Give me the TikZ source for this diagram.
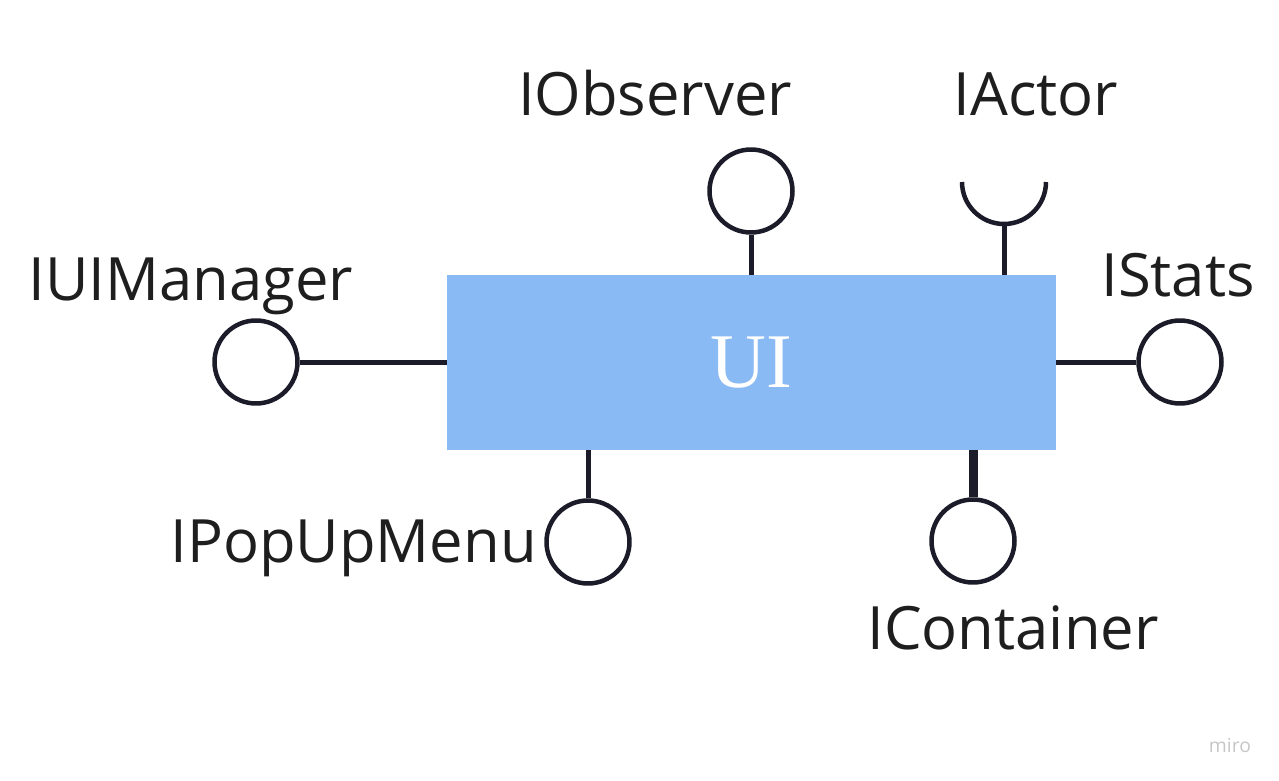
\documentclass[tikz,border=0pt]{standalone}
\usepackage{fontspec}
\setmainfont{Open Sans}
\newfontfamily\uiserif{Liberation Serif}
\definecolor{boxblue}{HTML}{8ABAF3}
\definecolor{ink}{HTML}{1B1B29}
\definecolor{txt}{HTML}{1E1E1E}
\tikzset{
  iface/.style={circle, draw=ink, line width=0.09cm, minimum size=1.66cm, inner sep=0pt},
  wire/.style={draw=ink, line width=0.1cm},
  lbl/.style={text=txt, inner sep=0pt, font=\fontsize{34}{40}\selectfont},
}
\begin{document}
\begin{tikzpicture}[x=0.02cm, y=-0.02cm]
            \useasboundingbox (0,0) rectangle (1279,781);
            \node[fill=boxblue, minimum width=12.18cm, minimum height=3.5cm, inner sep=0pt,
                  text=white, font=\uiserif\fontsize{44}{50}\selectfont] (ui) at (751.5,362.5) {UI};% khối UI
            \node[iface] (obs) at (751,191) {};
            \node[iface] (mgr) at (256,362) {};
            \node[iface] (sts) at (1180,362) {};
            \node[iface] (pop) at (588,542) {};
            \node[iface] (cnt) at (973,541) {};
            \coordinate (act) at (1004,182); %tâm IActor
            \coordinate (actb) at (1004,224);
            \draw[ink, line width=0.09cm] (act) ++(-0.84cm,0) arc (180:360:0.84cm);
            \draw[wire] (obs) -- (obs |- ui.north);
            \draw[wire] (actb) -- (actb |- ui.north);
            \draw[wire] (mgr) -- (ui.west |- mgr);
            \draw[wire] (sts) -- (ui.east |- sts);
            \draw[wire] (pop) -- (pop |- ui.south);
            \draw[wire, line width=0.18cm] (cnt) -- (cnt |- ui.south);
            \node[lbl, anchor=base] (tobs) at (655,115) {IObserver};
            \node[lbl, anchor=base] (tact) at (1036,115) {IActor};
            \node[lbl, anchor=base] (tmgr) at (191,300) {IUIManager};
            \node[lbl, anchor=base] (tsts) at (1178,296) {IStats};
            \node[lbl, anchor=base east] (tpop) at (537,562) {IPopUpMenu};
            \node[lbl, anchor=base] (tcnt) at (1013,649) {IContainer};
            \node[text=gray!45, font=\fontsize{11}{13}\selectfont] (miro) at (1230,745) {miro};
        \end{tikzpicture}
\end{document}
